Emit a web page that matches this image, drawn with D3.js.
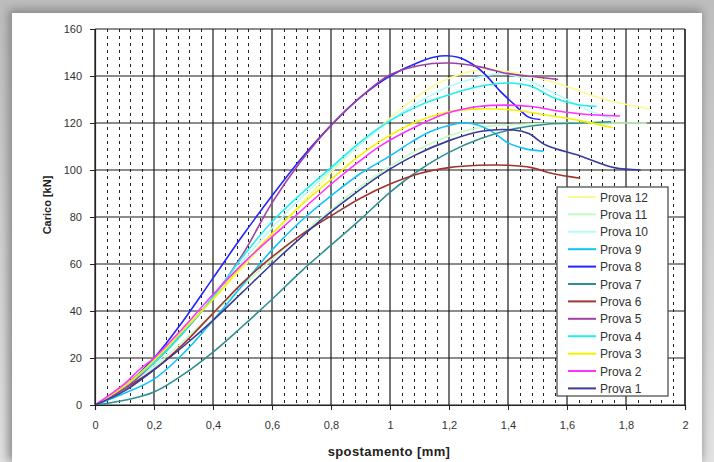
<!DOCTYPE html>
<html>
<head>
<meta charset="utf-8">
<script src="https://cdn.jsdelivr.net/npm/d3@7"></script>
<style>
    body { margin: 0; background: #d4d4d4; }
    svg { display: block; font-family: 'Liberation Sans', Arial, sans-serif; }
</style>
</head>
<body>
<svg></svg>
<script>
// load curves, [spostamento mm, carico kN]
var prova1 = [[0,0],[0.1,6],[0.2,15],[0.3,25],[0.4,36],[0.5,48],[0.6,60],[0.75,77],[0.86,88],[0.97,98],[1.08,106],[1.2,112.5],[1.31,116.5],[1.42,117],[1.47,115.5],[1.53,110.5],[1.645,106],[1.76,101],[1.85,100]];
var prova2 = [[0,0],[0.1,9],[0.15,15],[0.2,20],[0.3,33],[0.4,47],[0.525,63],[0.64,76],[0.81,95],[0.92,106],[0.97,110.5],[1.08,118],[1.19,124],[1.3,127],[1.4,127.6],[1.48,127],[1.59,124.7],[1.7,123.4],[1.78,123]];
var prova3 = [[0,0],[0.1,8],[0.2,19],[0.3,32],[0.4,45],[0.525,63],[0.64,78],[0.73,88.5],[0.81,97],[0.89,105.5],[0.97,112.5],[1.08,120],[1.19,124.5],[1.3,126],[1.42,125.5],[1.53,123.4],[1.645,121],[1.755,118]];
var prova4 = [[0,0],[0.1,8],[0.2,18],[0.3,31],[0.4,46],[0.5,63],[0.6,78],[0.7,90],[0.8,101],[0.9,112],[1.0,121],[1.1,127.5],[1.2,132],[1.3,135.5],[1.4,137],[1.48,135.5],[1.55,131],[1.63,128],[1.7,127]];
var prova5 = [[0,0],[0.1,7],[0.2,18],[0.3,31],[0.4,46],[0.5,64],[0.6,86],[0.7,104],[0.8,119],[0.9,131],[1.0,140.5],[1.1,144.5],[1.2,145.5],[1.3,144],[1.4,141],[1.47,140],[1.57,138.5]];
var prova6 = [[0,0],[0.1,7],[0.2,15],[0.3,26],[0.4,39],[0.5,52],[0.6,63],[0.7,72.5],[0.8,80.5],[0.9,88],[1.0,94],[1.1,98.5],[1.2,101],[1.3,102],[1.4,102],[1.48,101],[1.55,98.5],[1.645,96.5]];
var prova7 = [[0,0],[0.1,2],[0.2,5.5],[0.3,13],[0.4,22.5],[0.5,33.5],[0.6,45],[0.7,57],[0.8,68],[0.9,79],[1.0,90.5],[1.1,100],[1.2,107.5],[1.31,113.5],[1.42,117.5],[1.53,119.5],[1.65,120],[1.75,120.5]];
var prova8 = [[0,0],[0.1,8],[0.2,20],[0.3,36],[0.4,54],[0.5,72],[0.6,89],[0.7,105],[0.8,119],[0.9,131],[1.0,140],[1.1,146],[1.17,148.5],[1.23,148],[1.28,145],[1.32,141],[1.37,134],[1.42,128],[1.47,122.5],[1.51,121.5]];
var prova9 = [[0,0],[0.1,5],[0.2,11],[0.3,22],[0.4,36],[0.5,51],[0.6,66],[0.7,78.5],[0.8,89],[0.9,98.5],[1.0,106],[1.08,112.5],[1.15,117],[1.25,120],[1.3,119],[1.35,116],[1.4,111.5],[1.46,109],[1.52,108]];
var prova10 = [[0,0],[0.1,7],[0.2,17],[0.35,38],[0.5,61],[0.65,82],[0.8,100],[1.0,121],[1.1,129],[1.2,135.5],[1.3,139.5],[1.38,141],[1.45,139],[1.52,135],[1.6,130],[1.68,125],[1.75,122]];
var prova11 = [[0,0],[0.1,6],[0.2,16],[0.4,39],[0.6,62],[0.8,83],[0.9,93],[1.0,101.5],[1.1,109],[1.2,114.5],[1.3,118],[1.45,119.5],[1.6,120],[1.75,120],[1.87,120]];
var prova12 = [[0,0],[0.1,8],[0.2,20],[0.4,45],[0.6,72],[0.8,99],[0.9,111],[1.0,122],[1.1,132],[1.2,139],[1.3,142.5],[1.42,141.5],[1.57,136.7],[1.73,130],[1.88,126]];

var seriesNames = ['Prova 1','Prova 2','Prova 3','Prova 4','Prova 5','Prova 6','Prova 7','Prova 8','Prova 9','Prova 10','Prova 11','Prova 12'];
var seriesData = [prova1, prova2, prova3, prova4, prova5, prova6, prova7, prova8, prova9, prova10, prova11, prova12];
var seriesColors = ['#3a3a9a','#ff33ff','#f2f200','#22eeee','#a040a4','#a03232','#2f8f8f','#2424ff','#10c4f8','#b8fafa','#c2fcc2','#fbfb94'];

var xTicks = [0, 0.2, 0.4, 0.6, 0.8, 1, 1.2, 1.4, 1.6, 1.8, 2];
var xTickLabels = ['0','0,2','0,4','0,6','0,8','1','1,2','1,4','1,6','1,8','2'];
var yTicks = [0, 20, 40, 60, 80, 100, 120, 140, 160];

var svg = d3.select('svg')
    .attr('width', 714)
    .attr('height', 462);

// backdrop and card
var defs = svg.append('defs');
var grad = defs.append('linearGradient')
    .attr('id', 'bg')
    .attr('x1', 0).attr('y1', 0).attr('x2', 0).attr('y2', 1);
grad.append('stop').attr('offset', 0).attr('stop-color', '#bdbdbd');
grad.append('stop').attr('offset', 1).attr('stop-color', '#e2e2e2');
defs.append('filter')
    .attr('id', 'shadow')
    .attr('x', -0.1).attr('y', -0.1).attr('width', 1.2).attr('height', 1.2)
    .append('feGaussianBlur').attr('stdDeviation', 5);

svg.append('rect')
    .attr('width', 714).attr('height', 462)
    .attr('fill', 'url(#bg)');
svg.append('rect')
    .attr('x', 8).attr('y', 9).attr('width', 694).attr('height', 452)
    .attr('fill', '#8a8a8a')
    .attr('filter', 'url(#shadow)');
svg.append('rect')
    .attr('x', 12).attr('y', 13).attr('width', 690).attr('height', 449)
    .attr('fill', '#fff');

var margin = {left: 95, top: 29, right: 685, bottom: 405};

var x = d3.scaleLinear().domain([0, 2]).range([margin.left, margin.right]);
var y = d3.scaleLinear().domain([0, 160]).range([margin.bottom, margin.top]);

// minor dotted verticals
var minor = d3.range(0.04, 2, 0.04).filter((v) => Math.abs(v / 0.2 - Math.round(v / 0.2)) > 0.01);
svg.append('g')
    .selectAll('line')
    .data(minor)
    .enter()
    .append('line')
        .attr('x1', (d) => Math.round(x(d)) + 0.5)
        .attr('x2', (d) => Math.round(x(d)) + 0.5)
        .attr('y1', y(160))
        .attr('y2', y(0))
        .attr('stroke', '#222')
        .attr('stroke-width', 1)
        .attr('stroke-dasharray', '3,4');

// major grid
var grid = svg.append('g')
    .attr('stroke', '#1a1a1a')
    .attr('stroke-width', 1.2);
grid.selectAll('.gx')
    .data(xTicks)
    .enter()
    .append('line')
        .attr('x1', (d) => x(d)).attr('x2', (d) => x(d))
        .attr('y1', y(160)).attr('y2', y(0));
grid.selectAll('.gy')
    .data(yTicks)
    .enter()
    .append('line')
        .attr('x1', x(0)).attr('x2', x(2))
        .attr('y1', (d) => y(d)).attr('y2', (d) => y(d));

// curves
var line = d3.line()
    .x((d) => x(d[0]))
    .y((d) => y(d[1]))
    .curve(d3.curveCatmullRom.alpha(0.5));

svg.append('g')
    .selectAll('path')
    .data(seriesData.slice().reverse())
    .enter()
    .append('path')
        .attr('d', line)
        .attr('fill', 'none')
        .attr('stroke', (d) => seriesColors[seriesData.indexOf(d)])
        .attr('stroke-width', 1.6)
        .attr('stroke-linejoin', 'round');

// axes
var yAxis = svg.append('g')
    .attr('transform', 'translate(' + x(0) + ',0)')
    .call(d3.axisLeft(y).tickValues(yTicks).tickSize(5).tickPadding(8).tickFormat(d3.format('d')));
var xAxis = svg.append('g')
    .attr('transform', 'translate(0,' + y(0) + ')')
    .call(d3.axisBottom(x).tickValues(xTicks).tickSize(5).tickPadding(11).tickFormat((d, i) => xTickLabels[i]));
[xAxis, yAxis].forEach((a) => {
    a.select('.domain').attr('stroke', '#222').attr('stroke-width', 1.2);
    a.selectAll('.tick line').attr('stroke', '#222');
    a.selectAll('text')
        .attr('font-size', 11)
        .attr('fill', '#333')
        .attr('font-family', 'Liberation Sans, Arial, sans-serif');
});
svg.append('line')
    .attr('x1', x(2)).attr('x2', x(2))
    .attr('y1', y(160)).attr('y2', y(0))
    .attr('stroke', '#222').attr('stroke-width', 1.2);

// axis titles
svg.append('text')
    .attr('x', 389).attr('y', 456)
    .attr('text-anchor', 'middle')
    .attr('font-size', 13)
    .attr('letter-spacing', 0.4)
    .attr('font-weight', 'bold')
    .attr('fill', '#222')
    .text('spostamento [mm]');
svg.append('text')
    .attr('transform', 'translate(51,205) rotate(-90)')
    .attr('text-anchor', 'middle')
    .attr('font-size', 11)
    .attr('font-weight', 'bold')
    .attr('fill', '#222')
    .text('Carico [kN]');

// legend
var legend = svg.append('g')
    .attr('transform', 'translate(557,187)');
legend.append('rect')
    .attr('width', 111).attr('height', 209)
    .attr('fill', '#fff')
    .attr('stroke', '#444')
    .attr('stroke-width', 1.2);
var items = legend.selectAll('.item')
    .data(seriesNames.slice().reverse())
    .enter()
    .append('g')
        .attr('transform', (d, i) => 'translate(0,' + (10 + i * 17.4) + ')');
items.append('line')
    .attr('x1', 11).attr('x2', 39)
    .attr('stroke', (d) => seriesColors[seriesNames.indexOf(d)])
    .attr('stroke-width', 2);
items.append('text')
    .attr('x', 43).attr('y', 4.5)
    .attr('font-size', 12)
    .attr('fill', '#333')
    .text((d) => d);
</script>
</body>
</html>
